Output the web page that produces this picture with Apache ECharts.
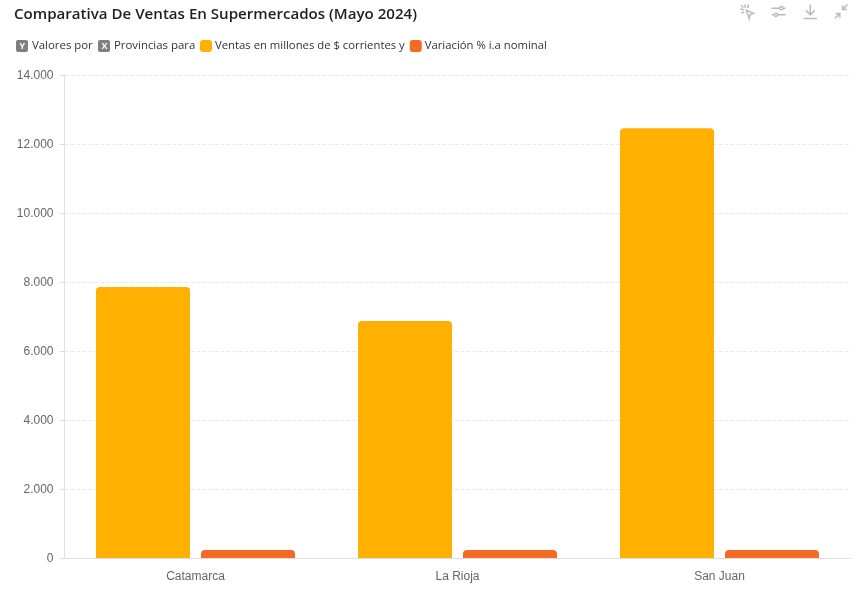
<!DOCTYPE html>
<html><head><meta charset="utf-8">
<style>html,body{margin:0;padding:0;background:#fff}#c{width:864px;height:598px}</style>
<script src="https://cdn.jsdelivr.net/npm/echarts@6/dist/echarts.min.js"></script>
</head><body><div id="c"></div>
<script>
const categories = ["Catamarca", "La Rioja", "San Juan"];
const ventas = [7855, 6870, 12460];
const variacion = [235, 232, 232];
const seriesNames = ["Ventas en millones de $ corrientes y", "Variación % i.a nominal"];
const titleText = "Comparativa De Ventas En Supermercados (Mayo 2024)";
const font = "'Liberation Sans', Arial, sans-serif";
const fontUI = "'Open Sans', 'Noto Sans', sans-serif";

function chip(x, letter, label) {
  return [
    {type:'rect', left:x, top:40, shape:{width:12, height:12, r:2}, style:{fill:'#7f7f7f'}, z:10},
    {type:'text', left:x+3.5, top:41.5, style:{text:letter, fill:'#fff', font:'bold 9px '+fontUI}, z:11},
    {type:'text', left:x+16, top:40, style:{text:label, fill:'#333', font:'11.4px '+fontUI}, z:11}
  ];
}
const chart = echarts.init(document.getElementById('c'), null, {renderer:'canvas'});
chart.setOption({
  animation:false,
  title:{text:titleText, left:9, top:2, textStyle:{fontFamily:fontUI, fontSize:15.1, fontWeight:600, color:'#1f1f1f'}},
  grid:{left:64.5, right:13.5, top:75, bottom:40},
  legend:{left:195, top:35, itemWidth:12, itemHeight:12, itemGap:5, icon:'roundRect',
    textStyle:{fontFamily:fontUI, fontSize:11.3, color:'#333', padding:[0,0,0,-2]}, data:seriesNames},
  toolbox:{right:-1, top:-13, itemSize:14, itemGap:13,
    iconStyle:{color:'none', borderColor:'#bbbbbb', borderWidth:1.5},
    feature:{
      myPick:{show:true, title:'', onclick(){}, icon:'path://M10 10L20 14L15 16L14 21ZM8 2L9 7M2 8L7 9M3 14L7 12M13 2L12 7M3 3L6 6'},
      myTune:{show:true, title:'', onclick(){}, icon:'path://M1 6H13M18 6H22M1 16H5M10 16H22M15.5 3.5A2.5 2.5 0 1 0 15.5 8.5A2.5 2.5 0 1 0 15.5 3.5M7.5 13.5A2.5 2.5 0 1 0 7.5 18.5A2.5 2.5 0 1 0 7.5 13.5'},
      myDown:{show:true, title:'', onclick(){}, icon:'path://M12 2V15M6 10L12 16L18 10M3 21H21'},
      myZoom:{show:true, title:'', onclick(){}, icon:'path://M21 2L14 9M14 3V9H20M3 22L10 15M4 15H10V21'}
    }},
  xAxis:{type:'category', data:categories,
    axisLine:{lineStyle:{color:'#e0e0e0'}}, axisTick:{show:false},
    axisLabel:{fontFamily:font, fontSize:12, color:'#666', margin:13}},
  yAxis:{type:'value', min:0, max:14000, interval:2000,
    axisLine:{show:true, lineStyle:{color:'#e0e0e0'}},
    axisTick:{show:true, length:5, lineStyle:{color:'#e0e0e0'}},
    axisLabel:{fontFamily:font, fontSize:12, color:'#666', margin:11, verticalAlign:'top', padding:[-5,0,0,0],
      formatter:v=>v.toLocaleString('de-DE')},
    splitLine:{lineStyle:{type:'dashed', color:'#e8e8e8'}}},
  series:[
    {name:seriesNames[0], type:'bar', data:ventas, barWidth:94, barGap:'11.7%', itemStyle:{color:'#ffb000', borderRadius:[4,4,0,0]}},
    {name:seriesNames[1], type:'bar', data:variacion, barWidth:94, itemStyle:{color:'#f46b23', borderRadius:[4,4,0,0]}}
  ],
  graphic:[...chip(16,'Y','Valores por'), ...chip(98,'X','Provincias para')]
});
</script></body></html>
